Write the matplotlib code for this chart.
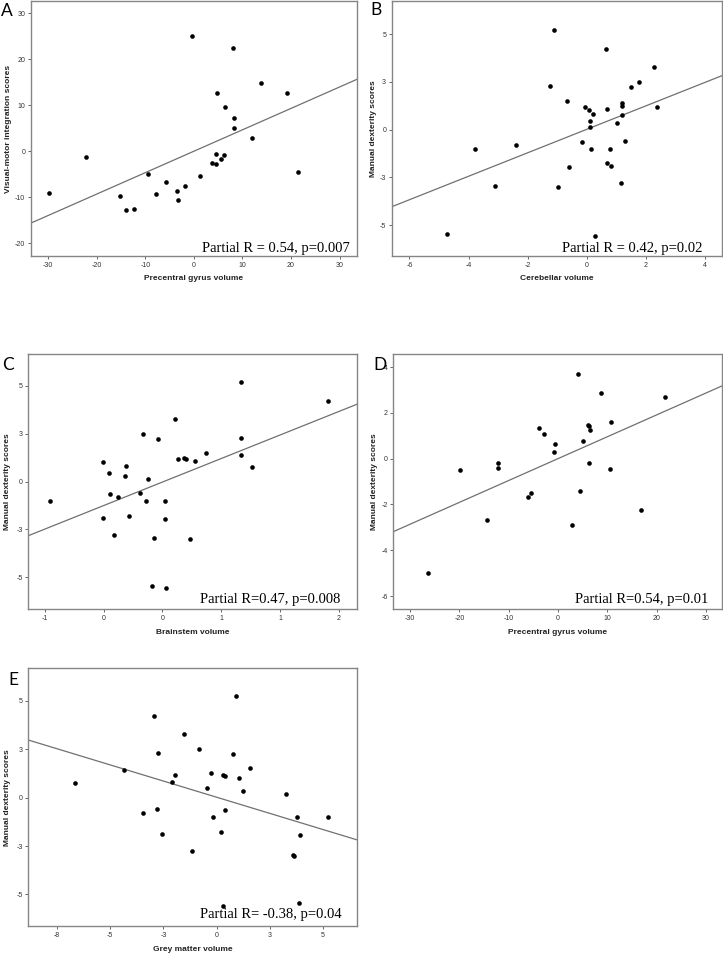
import numpy as np
import matplotlib
matplotlib.use('Agg')
import matplotlib.pyplot as plt

# ---- data (partial regression residual plots) ----
a_x = [-29.8, -22.3, -9.4, -15.3, -14.0, -12.3, -7.8, -5.8, -3.5, -3.2, -1.9, -0.4, 1.2,
       3.7, 4.5, 4.5, 4.8, 5.6, 6.2, 6.5, 8.0, 8.2, 8.2, 12.0, 13.9, 19.1, 21.4]
a_y = [-9.0, -1.2, -5.0, -9.8, -12.8, -12.6, -9.2, -6.6, -8.6, -10.7, -7.6, 25.1, -5.4,
       -2.5, -0.6, -2.8, 12.6, -1.7, -0.9, 9.7, 22.5, 7.2, 5.1, 2.8, 14.9, 12.6, -4.6]

b_x = [-1.09, 0.67, 2.27, 1.78, -1.23, 1.49, -0.65, 1.21, 1.20, 2.37, -0.06, 0.08, 0.69,
       0.21, 1.20, 0.12, 1.01, 0.12, -0.17, 1.31, -3.79, -2.39, 0.15, 0.80, 0.70, 0.83,
       -0.61, -3.10, -0.96, 1.16, -4.72, 0.28]
b_y = [5.24, 4.21, 3.26, 2.50, 2.27, 2.23, 1.50, 1.40, 1.24, 1.17, 1.17, 1.01, 1.10,
       0.82, 0.75, 0.47, 0.33, 0.16, -0.65, -0.59, -0.99, -0.79, -0.99, -0.99, -1.76,
       -1.88, -1.94, -2.95, -3.02, -2.77, -5.46, -5.57]

c_x = [-0.957, -0.504, -0.456, -0.450, -0.379, -0.311, -0.320, -0.507, -0.286, -0.411,
       -0.167, -0.190, -0.125, -0.142, -0.037, 0.023, 0.023, -0.068, -0.093, 0.028,
       0.110, 0.130, 0.187, 0.198, 0.280, 0.368, 0.235, 0.668, 0.668, 0.668, 0.764, 1.410]
c_y = [-1.01, 1.01, 0.45, -0.64, -0.78, 0.82, 0.31, -1.90, -1.78, -2.79,
       2.49, -0.57, 0.16, -0.99, 2.25, -0.99, -1.95, -2.94, -5.45, -5.57,
       3.26, 1.17, 1.22, 1.17, 1.08, 1.48, -3.01, 5.23, 2.26, 1.39, 0.75, 4.20]

d_x = [4.0, 8.67, 21.8, 10.8, -3.86, -2.78, 6.09, 6.23, 6.50, 5.01, -0.68, -0.88,
       -12.25, -12.25, -19.97, 6.23, 10.56, -5.42, -6.16, 4.47, -14.42, 2.78, 16.79, -26.34]
d_y = [3.70, 2.87, 2.71, 1.60, 1.34, 1.08, 1.47, 1.43, 1.24, 0.79, 0.63, 0.29,
       -0.17, -0.42, -0.49, -0.17, -0.45, -1.51, -1.66, -1.41, -2.69, -2.91, -2.23, -4.98]

e_x = [0.92, -2.93, -1.52, -0.83, -2.77, 0.75, 1.57, -4.34, -1.96, -0.27, 0.31, 0.38,
       1.03, -2.08, -6.64, -0.45, 1.22, 3.26, -3.48, -2.79, 0.38, -0.16, 3.76, 5.23,
       0.22, -2.58, 3.90, -1.14, 3.59, 3.63, 0.31, 3.87]
e_y = [5.25, 4.22, 3.27, 2.50, 2.29, 2.25, 1.51, 1.41, 1.19, 1.26, 1.19, 1.14,
       1.03, 0.81, 0.76, 0.48, 0.34, 0.17, -0.77, -0.57, -0.64, -1.00, -1.00, -0.98,
       -1.76, -1.89, -1.93, -2.77, -2.96, -3.01, -5.58, -5.46]

# fitted lines as drawn in the figure
fit_slope = [0.466, 0.614, 2.46, 0.0955, -0.334]
fit_icept = [0.0, 0.02, -0.02, 0.0, 0.02]

letters = ['A', 'B', 'C', 'D', 'E']
xlabels = ['Precentral gyrus volume', 'Cerebellar volume', 'Brainstem volume',
           'Precentral gyrus volume', 'Grey matter volume']
ylabels = ['Visual-motor integration scores', 'Manual dexterity scores',
           'Manual dexterity scores', 'Manual dexterity scores', 'Manual dexterity scores']
stats = ['Partial R = 0.54, p=0.007', 'Partial R = 0.42, p=0.02',
         'Partial R=0.47, p=0.008', 'Partial R=0.54, p=0.01',
         'Partial R= -0.38, p=0.04']

xticks = [[-30, -20, -10, 0, 10, 20, 30], [-6, -4, -2, 0, 2, 4],
          [-1, -0.5, 0, 0.5, 1, 1.5], [-30, -20, -10, 0, 10, 20, 30],
          [-7.5, -5, -2.5, 0, 2.5, 5]]
xticklabels = [['-30', '-20', '-10', '0', '10', '20', '30'], ['-6', '-4', '-2', '0', '2', '4'],
               ['-1', '0', '0', '1', '1', '2'], ['-30', '-20', '-10', '0', '10', '20', '30'],
               ['-8', '-5', '-3', '0', '3', '5']]
yticks = [[-20, -10, 0, 10, 20, 30], [-5, -2.5, 0, 2.5, 5], [-5, -2.5, 0, 2.5, 5],
          [-6, -4, -2, 0, 2, 4], [-5, -2.5, 0, 2.5, 5]]
yticklabels = [['-20', '-10', '0', '10', '20', '30'], ['-5', '-3', '0', '3', '5'],
               ['-5', '-3', '0', '3', '5'], ['-6', '-4', '-2', '0', '2', '4'],
               ['-5', '-3', '0', '3', '5']]
xlims = [(-33.6, 33.6), (-6.6, 4.57), (-1.14, 1.65), (-33.4, 33.2), (-8.85, 6.59)]
ylims = [(-22.8, 32.7), (-6.61, 6.74), (-6.67, 6.67), (-6.58, 4.57), (-6.63, 6.68)]

xs = [a_x, b_x, c_x, d_x, e_x]
ys = [a_y, b_y, c_y, d_y, e_y]

# ---- layout in pixels (left, right, top, bottom) ----
W, H = 723, 955
boxes = [(30.7, 357, 1, 256), (391.7, 721.7, 1, 256), (28.3, 356.7, 354, 609.3),
         (393.3, 721.7, 354, 609.3), (28.3, 357, 668.3, 926)]
letter_pos = [(1, 3), (370, 2), (2, 357), (373.5, 357), (8, 672)]
stat_pos = [(350, 251.7), (702, 251.7), (340.7, 603.3), (708.3, 602.7), (341.7, 918.3)]
ylab_off = [22.5, 18.5, 20.3, 19.3, 20.3]

fig = plt.figure(figsize=(W / 100, H / 100), dpi=100)
tick_font = dict(family='Liberation Sans', size=5, color='#333333')

for i in range(5):
    l, r, t, b = boxes[i]
    ax = fig.add_axes([l / W, 1 - b / H, (r - l) / W, (b - t) / H])
    ax.scatter(xs[i], ys[i], s=11, color='black', zorder=3, linewidths=0)
    lo, hi = xlims[i]
    line_x = np.array([lo, hi])
    ax.plot(line_x, fit_icept[i] + fit_slope[i] * line_x, color='#707070', lw=0.9, zorder=2)
    ax.set_xlim(lo, hi)
    ax.set_ylim(*ylims[i])
    ax.set_xticks(xticks[i])
    ax.set_xticklabels(xticklabels[i], fontdict=tick_font)
    ax.set_yticks(yticks[i])
    ax.set_yticklabels(yticklabels[i], fontdict=tick_font)
    ax.tick_params(length=2.5, width=0.7, color='#666666', pad=1.5)
    for sp in ax.spines.values():
        sp.set_color('#858585')
        sp.set_linewidth(1.0)
    w_px, h_px = r - l, b - t
    ax.text(0.5, -23 / h_px, xlabels[i], transform=ax.transAxes, ha='center', va='center',
            family='Liberation Sans', fontweight='bold', fontsize=6, color='#222222')
    ax.text(-ylab_off[i] / w_px, 0.5, ylabels[i], transform=ax.transAxes,
            rotation=90, ha='center', va='center', family='Liberation Sans',
            fontweight='bold', fontsize=6, color='#222222')
    fig.text(letter_pos[i][0] / W, 1 - letter_pos[i][1] / H, letters[i], ha='left', va='top',
             family='Lato', fontsize=12.5)
    fig.text(stat_pos[i][0] / W, 1 - stat_pos[i][1] / H, stats[i], ha='right', va='baseline',
             family='Liberation Serif', fontsize=10.5)

fig.savefig('out.png', dpi=100)
